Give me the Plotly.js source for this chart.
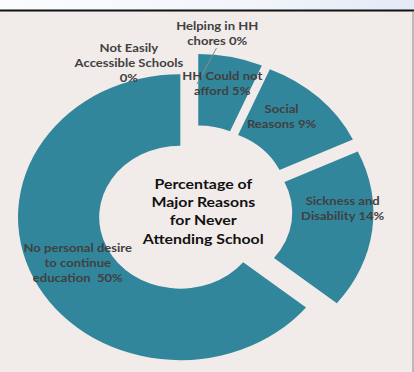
<!DOCTYPE html>
<html>
<head>
<meta charset="utf-8">
<script src="https://cdn.plot.ly/plotly-3.0.1.min.js"></script>
<style>
  html, body { margin: 0; padding: 0; }
  #chart {
    width: 414px; height: 372px;
    background: linear-gradient(to right, #fbfcfe 0%, #f2f5fb 60%, #e3eaf6 100%);
  }
</style>
</head>
<body>
<div id="chart"></div>
<script>
// ---- data ----
const categories = [
  "Not Easily Accessible Schools",
  "Helping in HH chores",
  "HH Could not afford",
  "Social Reasons",
  "Sickness and Disability",
  "No personal desire to continue education"
];
const values = [0, 0, 5, 9, 14, 50];
const labelPrefixes = [
  "Not Easily<br>Accessible Schools<br>",
  "Helping in HH<br>chores ",
  "HH Could not<br>afford ",
  "Social<br>Reasons ",
  "Sickness and<br>Disability ",
  "No personal desire<br>to continue<br>education  "
];
const centerTitle = "Percentage of<br>Major Reasons<br>for Never<br>Attending School";

// ---- layout helpers (pixels -> paper) ----
const W = 414, H = 372;
const X = px => px / W;
const Y = py => 1 - py / H;
const SX = 1.135;      // horizontal stretch of the whole picture
const CX = 195;        // doughnut centre x (px)

const labelPos = [
  [128, 63], [217, 33], [223, 83], [281, 116], [342, 208], [78, 262]
];

const teal = "#32869c";
const data = [{
  type: "pie",
  labels: categories,
  values: values,
  hole: 0.5,
  sort: false,
  direction: "clockwise",
  rotation: 0,
  pull: 0.1,
  textinfo: "none",
  hoverinfo: "none",
  marker: { colors: categories.map(() => teal), line: { width: 0 } },
  domain: { x: [X(CX - 157.3), X(CX + 157.3)], y: [Y(368.3), Y(53.7)] },
  showlegend: false
}];

const annotations = categories.map((c, i) => ({
  xref: "paper", yref: "paper",
  x: X(labelPos[i][0]), y: Y(labelPos[i][1]),
  xanchor: "center", yanchor: "middle",
  text: labelPrefixes[i] + values[i] + "%",
  showarrow: false,
  align: "center",
  font: { family: "Lato, 'Open Sans', sans-serif", size: 11.5, color: "#404040", weight: "bold" }
}));
annotations.push({
  xref: "paper", yref: "paper",
  x: X(203), y: Y(211), xanchor: "center", yanchor: "middle",
  text: centerTitle, showarrow: false, align: "center",
  font: { family: "Lato, 'Open Sans', sans-serif", size: 14, color: "#111111", weight: "bold" }
});

const layout = {
  width: W, height: H,
  margin: { l: 0, r: 0, t: 0, b: 0 },
  paper_bgcolor: "rgba(0,0,0,0)",
  plot_bgcolor: "rgba(0,0,0,0)",
  showlegend: false,
  shapes: [
    { type: "rect", xref: "paper", yref: "paper", x0: 0, x1: 1, y0: 0, y1: Y(11),
      fillcolor: "#f1ecea", line: { width: 0 }, layer: "below" },
    { type: "line", xref: "paper", yref: "paper", x0: 0, x1: 1, y0: Y(10.5), y1: Y(10.5),
      line: { color: "#111111", width: 2 } },
    { type: "line", xref: "paper", yref: "paper", x0: X(413), x1: X(413), y0: 0, y1: Y(11),
      line: { color: "#8a8a8a", width: 1 } },
    { type: "line", xref: "paper", yref: "paper", x0: X(216.5), x1: X(197), y0: Y(48), y1: Y(84),
      line: { color: "#8c8c8c", width: 1 } }
  ],
  annotations: annotations
};

Plotly.newPlot("chart", data, layout, { staticPlot: true, displayModeBar: false }).then(gd => {
  const layer = gd.querySelector(".pielayer");
  if (layer) {
    layer.setAttribute("transform", `translate(${CX},0) scale(${SX},1) translate(${-CX},0)`);
  }
  gd.querySelectorAll("g.annotation").forEach(g => {
    const b = g.getBBox();
    const cx = b.x + b.width / 2;
    g.setAttribute("transform", `translate(${cx},0) scale(${SX},1) translate(${-cx},0)`);
  });
});
</script>
</body>
</html>
